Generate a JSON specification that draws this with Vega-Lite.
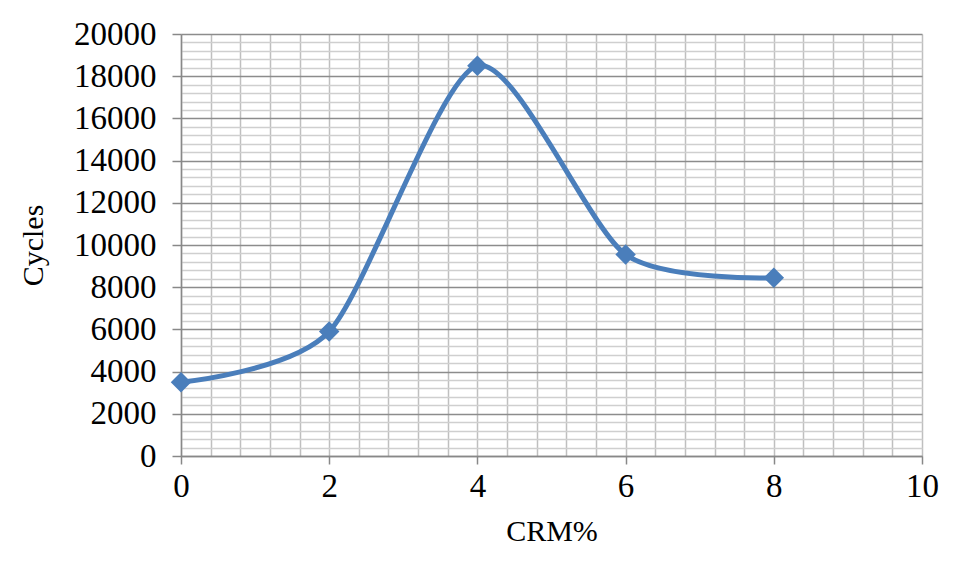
{
  "$schema": "https://vega.github.io/schema/vega-lite/v6.json",
  "autosize": "none",
  "width": 741,
  "height": 422,
  "padding": {"left": 181, "top": 34, "right": 36, "bottom": 122},
  "background": "white",
  "config": {
    "view": {"stroke": null},
    "font": "Liberation Serif",
    "axis": {"labelFont": "Liberation Serif", "titleFont": "Liberation Serif", "labelColor": "black", "titleColor": "black", "titleFontWeight": "normal", "labelFontSize": 33, "titleFontSize": 30}
  },
  "data": {"values": [
    {"crm": 0, "cycles": 3500},
    {"crm": 2, "cycles": 5900},
    {"crm": 4, "cycles": 18500},
    {"crm": 6, "cycles": 9550},
    {"crm": 8, "cycles": 8450}
  ]},
  "encoding": {
    "x": {"field": "crm", "type": "quantitative", "title": "CRM%",
      "scale": {"domain": [0, 10], "nice": false, "zero": false},
      "axis": {
        "values": [0,0.4,0.8,1.2,1.6,2,2.4,2.8,3.2,3.6,4,4.4,4.8,5.2,5.6,6,6.4,6.8,7.2,7.6,8,8.4,8.8,9.2,9.6,10],
        "labelExpr": "abs(datum.value/2 - round(datum.value/2)) < 0.001 ? format(datum.value, 'd') : ''",
        "labelOverlap": false, "labelFlush": false,
        "grid": true, "gridColor": "#bfbfbf", "gridWidth": 1.5,
        "domainColor": "#888888", "domainWidth": 1.5,
        "tickColor": "#888888", "tickWidth": 1.5, "tickSize": 8,
        "tickOpacity": {"condition": {"test": "abs(datum.value/2 - round(datum.value/2)) < 0.001", "value": 1}, "value": 0},
        "labelPadding": 6, "titlePadding": 13
      }},
    "y": {"field": "cycles", "type": "quantitative", "title": "Cycles",
      "scale": {"domain": [0, 20000], "nice": false},
      "axis": {
        "values": [0,400,800,1200,1600,2000,2400,2800,3200,3600,4000,4400,4800,5200,5600,6000,6400,6800,7200,7600,8000,8400,8800,9200,9600,10000,10400,10800,11200,11600,12000,12400,12800,13200,13600,14000,14400,14800,15200,15600,16000,16400,16800,17200,17600,18000,18400,18800,19200,19600,20000],
        "labelExpr": "datum.value % 2000 === 0 ? format(datum.value, 'd') : ''",
        "labelOverlap": false, "labelFlush": false,
        "grid": true,
        "gridColor": {"condition": {"test": "datum.value % 2000 === 0", "value": "#8c8c8c"}, "value": "#cfcfcf"},
        "gridWidth": 1.5,
        "domainColor": "#888888", "domainWidth": 1.5,
        "tickColor": "#888888", "tickWidth": 1.5, "tickSize": 9,
        "tickOpacity": {"condition": {"test": "datum.value % 2000 === 0", "value": 1}, "value": 0},
        "labelPadding": 16, "titlePadding": 25
      }}
  },
  "layer": [
    {"mark": {"type": "line", "interpolate": "cardinal", "tension": 0.25, "color": "#4a7ebb", "strokeWidth": 5}},
    {"mark": {"type": "point", "shape": "diamond", "filled": true, "color": "#4a7ebb", "opacity": 1, "size": 420}}
  ]
}
